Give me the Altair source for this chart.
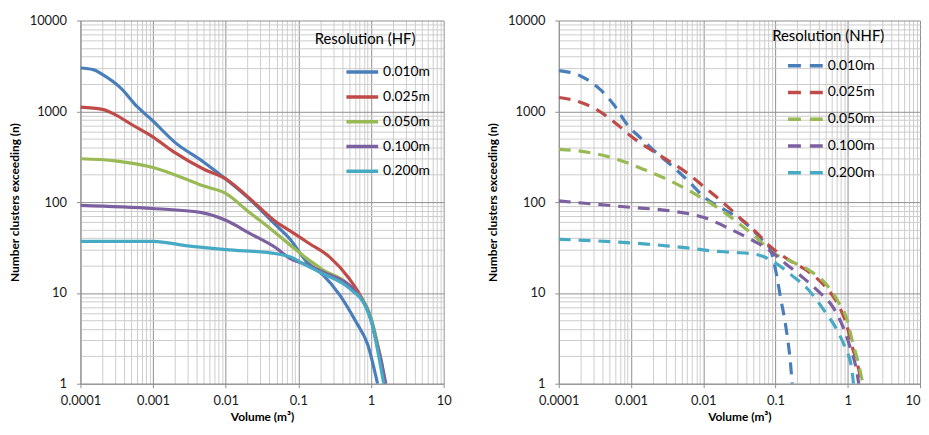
import altair as alt
import pandas as pd

# ---------------- data ----------------
series = ["0.010m", "0.025m", "0.050m", "0.100m", "0.200m"]
colors = ["#4A7EBB", "#BE4B48", "#98B954", "#7D60A0", "#46AAC5"]

# HF panel (solid lines)
hf010_x = [0.0001, 0.00015, 0.0002, 0.00036, 0.0006, 0.001, 0.002, 0.005, 0.01, 0.02, 0.05, 0.076, 0.13, 0.22, 0.37, 0.62, 0.9, 1.23]
hf010_y = [3000, 2880, 2550, 1800, 1130, 780, 455, 275, 180, 113, 55, 39.5, 22, 15.7, 9.5, 4.8, 2.7, 1]
hf025_x = [0.0001, 0.0002, 0.0003, 0.0005, 0.001, 0.002, 0.005, 0.01, 0.02, 0.05, 0.076, 0.143, 0.268, 0.5, 0.8, 1.0, 1.2, 1.4, 1.55]
hf025_y = [1110, 1050, 920, 720, 520, 350, 230, 180, 115, 60, 48.5, 34.8, 24.9, 14.4, 7.9, 5.2, 2.9, 1.6, 1]
hf050_x = [0.0001, 0.0003, 0.001, 0.0027, 0.005, 0.01, 0.02, 0.04, 0.076, 0.13, 0.217, 0.5, 1.0, 1.2, 1.4, 1.55]
hf050_y = [300, 285, 240, 182, 150, 125, 80, 52, 34, 24, 18, 12.2, 5.3, 3, 1.7, 1]
hf100_x = [0.0001, 0.001, 0.0045, 0.01, 0.0217, 0.05, 0.076, 0.13, 0.217, 0.62, 1.0, 1.2, 1.4, 1.6]
hf100_y = [92, 85, 77, 63, 45, 31, 24, 20.5, 17, 10.3, 5, 2.8, 1.7, 1]
hf200_x = [0.0001, 0.001, 0.003, 0.01, 0.05, 0.076, 0.13, 0.217, 0.504, 0.86, 1.05, 1.25, 1.5]
hf200_y = [37, 37, 33, 30, 27, 25, 20, 16.3, 11.2, 6.8, 4.4, 2.2, 1]

# NHF panel (dashed lines)
nhf010_x = [0.0001, 0.0002, 0.00038, 0.00058, 0.00089, 0.00135, 0.00228, 0.0037, 0.0062, 0.0105, 0.0187, 0.035, 0.063, 0.085, 0.1, 0.118, 0.138, 0.162, 0.17]
nhf010_y = [2800, 2450, 1720, 1180, 710, 510, 345, 250, 171, 112, 84, 62.5, 39.5, 30, 18, 8.7, 4.4, 1.6, 1]
nhf025_x = [0.0001, 0.00015, 0.00034, 0.00065, 0.001, 0.00185, 0.0033, 0.0059, 0.0105, 0.0187, 0.0316, 0.0537, 0.086, 0.154, 0.289, 0.49, 0.746, 0.97, 1.13, 1.4, 1.56]
nhf025_y = [1420, 1340, 1040, 711, 531, 380, 285, 211, 145, 99, 68, 46.7, 32, 23, 17, 11.7, 7.3, 4.4, 2.7, 1.5, 1]
nhf050_x = [0.0001, 0.0002, 0.00065, 0.0015, 0.0028, 0.0053, 0.0094, 0.0168, 0.0316, 0.0537, 0.09, 0.16, 0.3, 0.5, 0.75, 1.0, 1.15, 1.4, 1.62]
nhf050_y = [380, 364, 295, 229, 186, 145, 112, 84, 57.5, 41, 28, 22.5, 17.5, 12.5, 7.8, 4.8, 3, 1.7, 1]
nhf100_x = [0.0001, 0.001, 0.0035, 0.01, 0.023, 0.048, 0.08, 0.138, 0.234, 0.396, 0.637, 0.873, 1.08, 1.33, 1.42]
nhf100_y = [103, 87.5, 80, 68, 51, 38, 30, 21, 15, 10.3, 6.8, 4.1, 2.5, 1.38, 1]
nhf200_x = [0.0001, 0.001, 0.0031, 0.0066, 0.013, 0.0256, 0.0537, 0.09, 0.17, 0.289, 0.465, 0.71, 0.92, 1.13, 1.2]
nhf200_y = [39, 35.5, 33, 31, 29, 28, 26.6, 22.5, 15.5, 10.7, 6.5, 3.9, 2.5, 1.5, 1]


def long_table(xs_list, ys_list):
    rows = []
    for name, xs, ys in zip(series, xs_list, ys_list):
        for i, (a, b) in enumerate(zip(xs, ys)):
            rows.append({"vol": a, "n": b, "res": name, "idx": i})
    return pd.DataFrame(rows)


hf = long_table([hf010_x, hf025_x, hf050_x, hf100_x, hf200_x],
                [hf010_y, hf025_y, hf050_y, hf100_y, hf200_y])
nhf = long_table([nhf010_x, nhf025_x, nhf050_x, nhf100_x, nhf200_x],
                 [nhf010_y, nhf025_y, nhf050_y, nhf100_y, nhf200_y])

# minor + major ticks for the log grids
x_ticks = [m * 10.0 ** e for e in range(-4, 1) for m in range(1, 10)] + [10.0]
y_ticks = [m * 10.0 ** e for e in range(0, 4) for m in range(1, 10)] + [10000.0]

FONT = "Lato"
MAJOR = "abs(log(datum.value)/LN10 - round(log(datum.value)/LN10)) < 0.000001"
LABEL = "abs(log(datum.value)/LN10 - round(log(datum.value)/LN10)) < 0.000001 ? format(datum.value, '') : ''"


def axis(title, values, is_x, flush_last=False):
    kw = dict(
        values=values,
        labelExpr=LABEL,
        labelOverlap=False,
        labelFlush=False,
        labelBound=False,
        grid=True,
        gridColor={"condition": {"test": MAJOR, "value": "#8f8f8f"}, "value": "#cdcdcd"},
        gridWidth=1,
        tickColor={"condition": {"test": MAJOR, "value": "#8f8f8f"}, "value": "transparent"},
        tickSize=4,
        domainColor="#8f8f8f",
        labelFont=FONT,
        labelFontSize=13,
        labelColor="#1a1a1a",
        labelPadding=7 if is_x else 10,
        title=title,
        titleFont=FONT,
        titleFontSize=12,
        titleFontWeight="bold",
        titleColor="#000000",
        titlePadding=4 if is_x else 8,
    )
    if flush_last:
        kw["labelAlign"] = {"condition": {"test": "datum.value >= 10", "value": "right"}, "value": "center"}
    return alt.Axis(**kw)


def panel(df, legend_title, dash, lx, ly, sym_off, row_pad, title_pad, sym_size, width, flush_last):
    mark_kwargs = dict(strokeWidth=3.2, interpolate="monotone", clip=True)
    if dash:
        mark_kwargs["strokeDash"] = dash
    legend_kwargs = dict(
        title=legend_title,
        orient="none",
        legendX=lx,
        legendY=ly,
        symbolType="stroke",
        symbolSize=sym_size,
        symbolStrokeWidth=3.5,
        symbolOffset=sym_off,
        labelFont=FONT,
        labelFontSize=14,
        labelColor="#000000",
        labelOffset=3,
        titleFont=FONT,
        titleFontSize=15,
        titleFontWeight="normal",
        titleColor="#000000",
        titlePadding=title_pad,
        rowPadding=row_pad,
    )
    if dash:
        legend_kwargs["symbolDash"] = [13, 9]
    return alt.Chart(df).mark_line(**mark_kwargs).encode(
        x=alt.X("vol:Q", scale=alt.Scale(type="log", domain=[0.0001, 10], nice=False),
                axis=axis("Volume (m³)", x_ticks, True, flush_last)),
        y=alt.Y("n:Q", scale=alt.Scale(type="log", domain=[1, 10000], nice=False),
                axis=axis("Number clusters exceeding (n)", y_ticks, False)),
        color=alt.Color("res:N", scale=alt.Scale(domain=series, range=colors),
                        legend=alt.Legend(**legend_kwargs)),
        order="idx:Q",
    ).properties(width=width, height=366)


left = panel(hf, "Resolution (HF)", None, 236, 12, 30, -10.5, 7, 1024, 366, False)
right = panel(nhf, "Resolution (NHF)", [12, 8], 215, 9, 14, -12, 2, 1225, 364, True)

chart = alt.hconcat(left, right, spacing=35).properties(
    padding={"left": 0, "top": 5, "right": 0, "bottom": 0}
).configure_view(stroke=None).resolve_scale(color="independent")

chart.save("out.html", embed_options={"renderer": "svg", "actions": False})
